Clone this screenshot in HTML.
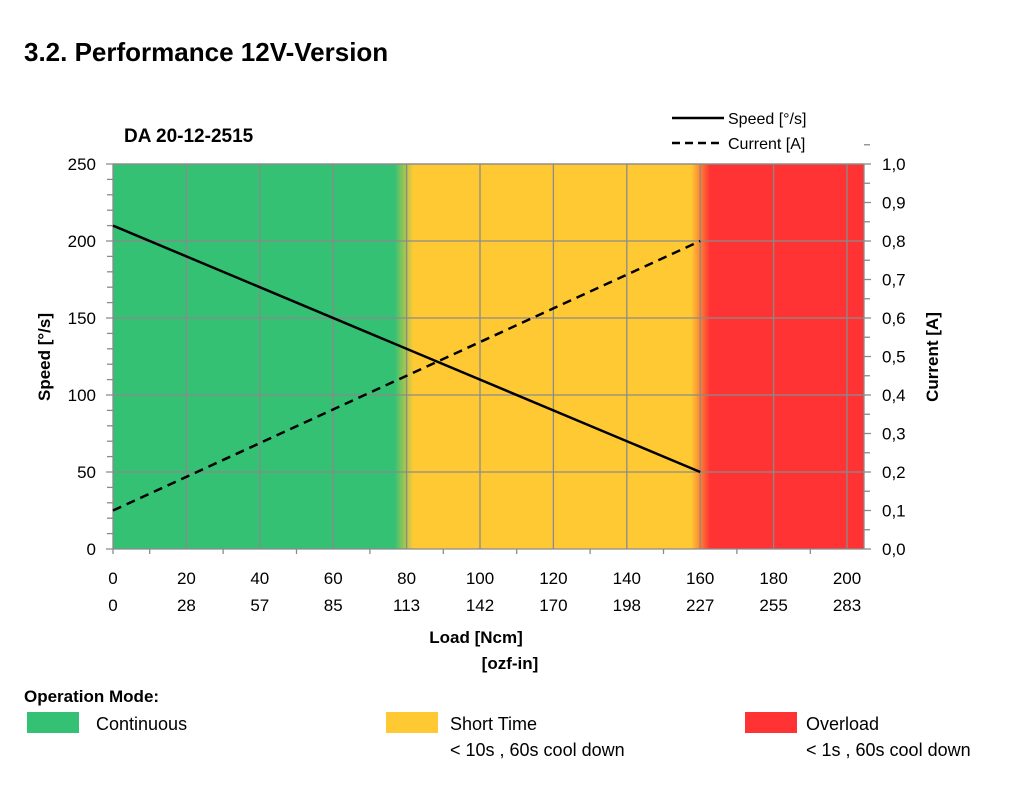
<!DOCTYPE html>
<html><head><meta charset="utf-8"><style>
body{margin:0;background:#fff;width:1019px;height:786px;overflow:hidden;font-family:"Liberation Sans",sans-serif}
svg text{font-family:"Liberation Sans",sans-serif}
</style></head><body>
<svg width="1019" height="786">
<defs>
<linearGradient id="bg" x1="113" x2="864" y1="0" y2="0" gradientUnits="userSpaceOnUse">
<stop offset="0.375" stop-color="#34C174"/><stop offset="0.40" stop-color="#FFC933"/>
<stop offset="0.77" stop-color="#FFC933"/><stop offset="0.795" stop-color="#FF3333"/>
</linearGradient></defs>
<text x="24" y="61" font-size="26" font-weight="bold">3.2. Performance 12V-Version</text>
<text x="124" y="142" font-size="19" font-weight="bold">DA 20-12-2515</text>
<g>
<line x1="672" y1="118" x2="724" y2="118" stroke="#000" stroke-width="2.5"/>
<text x="728" y="124" font-size="16">Speed [°/s]</text>
<line x1="672" y1="143" x2="724" y2="143" stroke="#000" stroke-width="2.5" stroke-dasharray="8,5"/>
<text x="728" y="149" font-size="16">Current [A]</text>
</g>
<rect x="113" y="164" width="751" height="385" fill="url(#bg)"/>
<g id="grid" stroke="#8a8a8a" stroke-width="1.3"></g>
<g id="axes" font-size="17"></g>
<path id="speed" fill="none" stroke="#000" stroke-width="2.5"/>
<path id="current" fill="none" stroke="#000" stroke-width="2.5" stroke-dasharray="9,6"/>
<text transform="translate(50,357) rotate(-90)" text-anchor="middle" font-size="17" font-weight="bold">Speed  [°/s]</text>
<text transform="translate(938,357) rotate(-90)" text-anchor="middle" font-size="17" font-weight="bold">Current  [A]</text>
<text x="476" y="643" text-anchor="middle" font-size="17" font-weight="bold">Load [Ncm]</text>
<text x="510" y="669" text-anchor="middle" font-size="17" font-weight="bold">[ozf-in]</text>
<text x="24" y="702" font-size="17" font-weight="bold">Operation Mode:</text>
<g font-size="18">
<rect x="27" y="712" width="52" height="21" fill="#34C174"/><text x="96" y="730">Continuous</text>
<rect x="386" y="712" width="52" height="21" fill="#FFC933"/><text x="450" y="730">Short Time</text><text x="450" y="756">&lt; 10s , 60s cool down</text>
<rect x="745" y="712" width="52" height="21" fill="#FF3333"/><text x="806" y="730">Overload</text><text x="806" y="756">&lt; 1s , 60s cool down</text>
</g>
</svg>
<script>
const loadTicks=[0,20,40,60,80,100,120,140,160,180,200];
const ozTicks=["0","28","57","85","113","142","170","198","227","255","283"];
const speedTicks=[0,50,100,150,200,250];
const currentTicks=["0,0","0,1","0,2","0,3","0,4","0,5","0,6","0,7","0,8","0,9","1,0"];
const loadX=[0,160];
const speedY=[210,50];
const currentY=[0.1,0.8];
const X=v=>113+v*3.67, YS=v=>549-v*1.54, YC=v=>549-v*385;
const NS="http://www.w3.org/2000/svg";
const g=document.getElementById('grid'),a=document.getElementById('axes');
function el(p,t,at,txt){const e=document.createElementNS(NS,t);for(const k in at)e.setAttribute(k,at[k]);if(txt!==undefined)e.textContent=txt;p.appendChild(e);return e;}
loadTicks.forEach((v,i)=>{if(v>0){const l=el(g,'line',{x1:X(v),x2:X(v),y1:164,y2:549});}
const t=el(a,'text',{x:X(v),y:584,'text-anchor':'middle'},v);
const t2=el(a,'text',{x:X(v),y:611,'text-anchor':'middle'},ozTicks[i]);});
for(let v=10;v<205;v+=20){el(g,'line',{x1:X(v),x2:X(v),y1:549,y2:554});}
speedTicks.forEach(v=>{const l=el(g,'line',{x1:106,x2:864,y1:YS(v),y2:YS(v)});
const t=el(a,'text',{x:96,y:YS(v)+6,'text-anchor':'end'},v);});
for(let v=10;v<250;v+=10){if(v%50)el(g,'line',{x1:107,x2:113,y1:YS(v),y2:YS(v)});}
currentTicks.forEach((s,i)=>{el(g,'line',{x1:864,x2:871,y1:YC(i/10),y2:YC(i/10)});
el(g,'line',{x1:864,x2:870,y1:YC(i/10+0.05),y2:YC(i/10+0.05)});
const t=el(a,'text',{x:882,y:YC(i/10)+6},s);});
el(g,'line',{x1:113,x2:113,y1:164,y2:554});el(g,'line',{x1:864,x2:864,y1:164,y2:549});
el(g,'line',{x1:113,x2:864,y1:164,y2:164});
document.getElementById('speed').setAttribute('d',loadX.map((v,i)=>(i?'L':'M')+X(v)+','+YS(speedY[i])).join(''));
document.getElementById('current').setAttribute('d',loadX.map((v,i)=>(i?'L':'M')+X(v)+','+YC(currentY[i])).join(''));
</script>
</body></html>
